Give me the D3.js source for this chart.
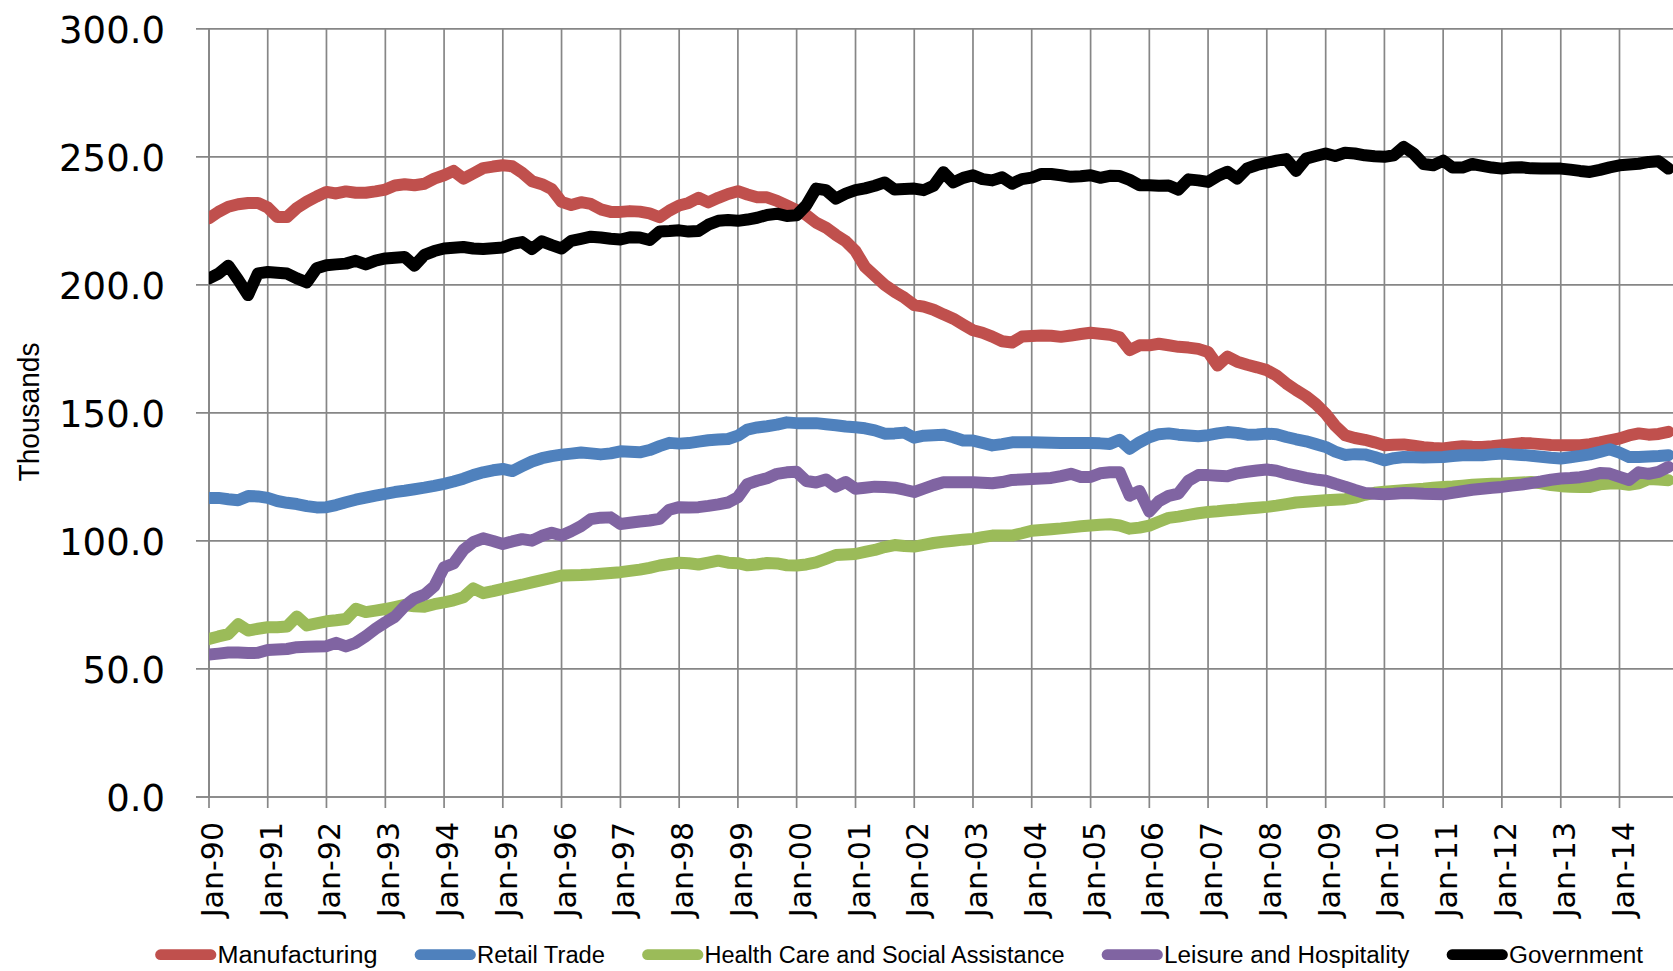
<!DOCTYPE html>
<html><head><meta charset="utf-8">
<script src="https://cdn.jsdelivr.net/npm/d3@7"></script>
<style>
html,body{margin:0;padding:0;background:#fff;overflow:hidden}
svg{display:block}
</style></head><body>
<svg id="chart" width="1673" height="971"></svg>
<script>
// ---------- DATA (bimonthly: Jan, Mar, May, Jul, Sep, Nov; Jan-1990 .. Nov-2014) ----------
const seriesNames = ["Manufacturing", "Retail Trade", "Health Care and Social Assistance", "Leisure and Hospitality", "Government"];
const seriesColors = ["#C0504D", "#4F81BD", "#9BBB59", "#8064A2", "#000000"];

const manufacturing = [
226,228.5,230.5,231.5,232,232,
230.2,226.5,226.5,230,232.5,234.5,
236.3,235.7,236.5,236,236,236.5,
237.2,238.8,239.3,238.9,239.5,241.5,
242.8,244.5,241.5,243.5,245.6,246.2,
246.7,246.3,243.8,240.5,239.3,237.4,
232.4,231.2,232.3,231.6,229.5,228.5,
228.5,228.8,228.6,227.9,226.4,229,
231,232,234,232.2,234,235.5,
236.6,235.3,234.2,234.2,232.8,231,
229.2,227.3,224.3,222.4,219.5,217,
213.2,207,203.5,200,197.3,195,
192.1,191.5,190.3,188.5,186.8,184.5,
182.3,181.3,179.8,178,177.5,179.8,
180,180.2,180.1,179.7,180.2,180.8,
181.3,180.9,180.5,179.5,174.5,176.4,
176.4,177,176.4,175.8,175.5,175,
173.8,168.5,172,170,168.8,167.8,
166.7,164.6,161.5,158.9,156.5,153.5,
149.7,145,141.3,140.2,139.5,138.5,
137.4,137.6,137.7,137.2,136.6,136.3,
136.1,136.6,137,136.8,136.7,137,
137.4,137.8,138.2,138.1,137.8,137.5,
137.4,137.4,137.4,137.8,138.5,139.3,
140,141.2,142,141.5,141.8,142.6];

const retailTrade = [
116.8,116.8,116.3,115.9,117.5,117.4,
116.8,115.6,114.9,114.4,113.6,113.1,
113.2,114,115.1,116.1,116.9,117.7,
118.4,119.1,119.6,120.2,120.8,121.5,
122.3,123.2,124.3,125.7,126.8,127.6,
128.1,127.3,129.2,131,132.3,133.1,
133.7,134.1,134.5,134.2,133.8,134.2,
135,134.8,134.6,135.5,137,138.3,
138,138.2,138.8,139.3,139.6,139.8,
141.1,143.5,144.3,144.8,145.4,146.3,
146,146,146,145.6,145.2,144.7,
144.4,144,143.2,141.9,142,142.3,
140.3,141.1,141.3,141.5,140.5,139.2,
139.2,138.3,137.3,137.8,138.5,138.5,
138.5,138.4,138.3,138.2,138.2,138.2,
138.2,138.1,137.9,139.5,136,138.5,
140.5,141.7,142,141.5,141.2,140.9,
141.3,142,142.5,142.2,141.5,141.6,
141.9,141.7,140.6,139.7,138.9,137.8,
136.7,134.9,133.6,133.9,133.8,132.8,
131.5,132.3,132.8,132.7,132.6,132.7,
132.8,133.2,133.5,133.5,133.5,133.8,
134.1,133.8,133.6,133.3,132.9,132.5,
132.2,132.7,133.2,133.8,134.8,135.8,
134.5,132.8,132.8,133,133.2,133.5];

const healthCare = [
61.7,62.7,63.6,67.5,65,65.7,
66.3,66.3,66.6,70.5,67,67.8,
68.6,69,69.5,73.5,72.2,72.8,
73.4,74.2,75,74.5,74.3,75.3,
76,76.8,78,81.5,79.6,80.4,
81.3,82.1,82.9,83.8,84.7,85.6,
86.5,86.6,86.7,86.9,87.2,87.5,
87.8,88.3,88.8,89.5,90.4,91,
91.5,91.3,90.8,91.5,92.3,91.5,
91.3,90.5,90.8,91.4,91.2,90.5,
90.4,90.8,91.6,93,94.5,94.7,
94.9,95.7,96.5,97.6,98.4,98,
97.8,98.5,99.2,99.7,100.1,100.5,
100.8,101.5,102.1,102.1,102.1,103,
104,104.3,104.6,104.9,105.3,105.7,
106,106.3,106.5,106,104.8,105.2,
106,107.5,109,109.5,110.2,110.8,
111.3,111.6,112,112.3,112.7,113,
113.3,113.8,114.4,115,115.3,115.6,
115.9,116.1,116.3,116.9,118,118.8,
119.2,119.5,119.8,120.1,120.4,120.8,
121.1,121.3,121.6,121.9,122.1,122.3,
122.4,122.6,122.8,123,122.5,121.8,
121.4,121.2,121.1,121.1,122.1,122.4,
122.4,121.9,122.5,124.2,124,123.7];

const leisure = [
55.6,56,56.4,56.4,56.2,56.3,
57.4,57.6,57.8,58.5,58.7,58.8,
58.9,60.2,58.8,60.2,62.8,65.7,
68.2,70.4,74.5,77.5,79,82.3,
89.7,91.2,96.5,99.5,101,100,
98.8,99.8,100.7,100.1,102,103.2,
102.1,103.8,105.8,108.5,109.1,109.2,
106.6,107.1,107.6,108,108.6,112.2,
113.2,113.1,113.2,113.7,114.3,115,
117.1,122.2,123.5,124.5,126.2,126.8,
127,123.4,122.8,124,121.2,123,
120.4,120.8,121.2,121.1,120.8,120,
119.1,120.4,121.8,122.9,122.9,122.9,
122.9,122.7,122.5,123,123.8,124,
124.2,124.4,124.6,125.3,126.2,125,
125,126.4,126.8,126.8,117.7,119.5,
111.5,115.5,117.6,118.5,123.5,125.7,
125.7,125.5,125.3,126.4,127,127.5,
127.9,127.4,126.3,125.5,124.6,124,
123.5,122.3,121.2,119.9,118.7,118.4,
118.2,118.4,118.7,118.6,118.4,118.3,
118.2,118.8,119.4,120,120.4,120.8,
121.1,121.6,122,122.6,123.2,123.9,
124.4,124.6,124.9,125.5,126.5,126.3,
125,123.8,126.8,126.2,127,128.9];

const government = [
202.5,204.4,207.5,202,196,204.5,
205,204.7,204.4,202.5,201,206.5,
207.7,208,208.3,209.4,208,209.5,
210.3,210.6,210.9,207.5,211.7,213.2,
214.2,214.5,214.8,214.2,214,214.3,
214.6,216,216.7,214,217,215.5,
214.2,217.2,218,218.8,218.5,218,
217.7,218.6,218.5,217.5,220.8,221,
221.3,220.8,221,223.5,225,225.3,
225,225.5,226.2,227.3,227.8,226.9,
227.2,231.1,237.6,237,233.7,235.6,
237,237.7,238.7,240,237.2,237.4,
237.6,237,238.7,244,240,241.8,
242.8,241.3,240.8,242,239.5,241.3,
241.9,243.3,243.3,242.8,242.2,242.4,
242.8,241.8,242.6,242.5,241,238.9,
238.9,238.7,238.8,237.2,241.2,240.8,
240.2,242.5,244.2,241.5,245.5,246.8,
247.7,248.5,249.1,244.5,249.3,250.3,
251.3,250.3,251.6,251.3,250.6,250.2,
250,250.6,253.9,251.3,247.2,246.7,
248.5,245.8,245.8,247.2,246.5,245.8,
245.4,245.8,245.9,245.5,245.4,245.4,
245.4,245,244.5,244.1,244.9,245.9,
246.7,247,247.3,248,248.3,245.4];

const yTicks = [0, 50, 100, 150, 200, 250, 300];
const yAxisTitle = "Thousands";
const firstYear = 1990, lastTickYear = 2014;

// ---------- LAYOUT ----------
const W = 1673, H = 971;
const plotLeft = 209, plotBottom = 797, plotTop = 28.8;
const gridColor = "#868686";
const svg = d3.select("#chart");

const months = d3.timeMonth.range(new Date(1990, 0, 1), new Date(2014, 11, 2), 2);
const yearTicks = d3.timeYear.range(new Date(firstYear, 0, 1), new Date(lastTickYear + 1, 0, 1));

const x = d3.scaleTime().domain([new Date(1990, 0, 1), new Date(2014, 0, 1)]).range([plotLeft, 1619.5]);
const y = d3.scaleLinear().domain([0, 300]).range([plotBottom, plotTop]);

// horizontal gridlines
svg.append("g").selectAll("line").data(yTicks).join("line")
  .attr("x1", plotLeft - 13).attr("x2", W)
  .attr("y1", d => y(d)).attr("y2", d => y(d))
  .attr("stroke", gridColor).attr("stroke-width", 1.7);

// vertical gridlines
svg.append("g").selectAll("line").data(yearTicks).join("line")
  .attr("x1", d => x(d)).attr("x2", d => x(d))
  .attr("y1", plotTop).attr("y2", plotBottom + 11)
  .attr("stroke", gridColor).attr("stroke-width", 1.7);

// y axis labels
const yAxis = d3.axisLeft(y).tickValues(yTicks).tickFormat(d3.format(".1f")).tickSize(13).tickPadding(31);
const gy = svg.append("g").attr("transform", `translate(${plotLeft},0)`).call(yAxis);
gy.select(".domain").remove();
gy.selectAll(".tick line").remove();
gy.selectAll("text").attr("font-family", "'DejaVu Sans', Verdana, sans-serif")
  .attr("font-size", 37).attr("fill", "#000").attr("dy", "0.36em");

// x axis labels
const xAxis = d3.axisBottom(x).tickValues(yearTicks).tickFormat(d3.timeFormat("%b-%y")).tickSize(11);
const gx = svg.append("g").attr("transform", `translate(0,${plotBottom})`).call(xAxis);
gx.select(".domain").remove();
gx.selectAll(".tick line").remove();
gx.selectAll("text")
  .attr("font-family", "'DejaVu Sans', Verdana, sans-serif").attr("font-size", 30).attr("fill", "#000")
  .attr("x", 0).attr("y", 0).attr("dy", 0)
  .attr("text-anchor", "end")
  .attr("transform", "translate(13.5,25) rotate(-90)");

// axis lines
svg.append("line").attr("x1", plotLeft).attr("x2", plotLeft).attr("y1", plotTop).attr("y2", plotBottom)
  .attr("stroke", gridColor).attr("stroke-width", 1.7);
svg.append("line").attr("x1", plotLeft - 13).attr("x2", W).attr("y1", plotBottom).attr("y2", plotBottom)
  .attr("stroke", gridColor).attr("stroke-width", 1.7);

// y title
svg.append("text").attr("transform", "translate(39,412) rotate(-90)")
  .attr("text-anchor", "middle")
  .attr("font-family", "'Liberation Sans Narrow', 'Arial Narrow', sans-serif")
  .attr("font-size", 29).attr("textLength", 139).attr("lengthAdjust", "spacingAndGlyphs")
  .text(yAxisTitle);

// series lines
svg.append("clipPath").attr("id", "plotclip").append("rect")
  .attr("x", plotLeft).attr("y", 0).attr("width", W - plotLeft).attr("height", H);
const allSeries = [manufacturing, retailTrade, healthCare, leisure, government];
const line = d3.line().x((d, i) => x(months[i])).y(d => y(d));
svg.append("g").attr("clip-path", "url(#plotclip)")
  .selectAll("path").data(allSeries).join("path")
  .attr("d", line)
  .attr("fill", "none")
  .attr("stroke", (d, i) => seriesColors[i])
  .attr("stroke-width", 12)
  .attr("stroke-linejoin", "round")
  .attr("stroke-linecap", "round");

// legend
const legendTextWidths = [160, 128, 360, 245.5, 134];
const legendY = 954.7;
let lx = 155;
const lg = svg.append("g");
seriesNames.forEach((name, i) => {
  lg.append("line").attr("x1", lx + 5.5).attr("x2", lx + 56)
    .attr("y1", legendY).attr("y2", legendY)
    .attr("stroke", seriesColors[i]).attr("stroke-width", 10.7).attr("stroke-linecap", "round");
  lg.append("text").attr("x", lx + 62.5).attr("y", 962.7)
    .attr("font-family", "'Liberation Sans Narrow', 'Arial Narrow', sans-serif")
    .attr("font-size", 23).attr("fill", "#000")
    .attr("textLength", legendTextWidths[i]).attr("lengthAdjust", "spacingAndGlyphs")
    .text(name);
  lx += 62.5 + legendTextWidths[i] + 37;
});
</script>
</body></html>
